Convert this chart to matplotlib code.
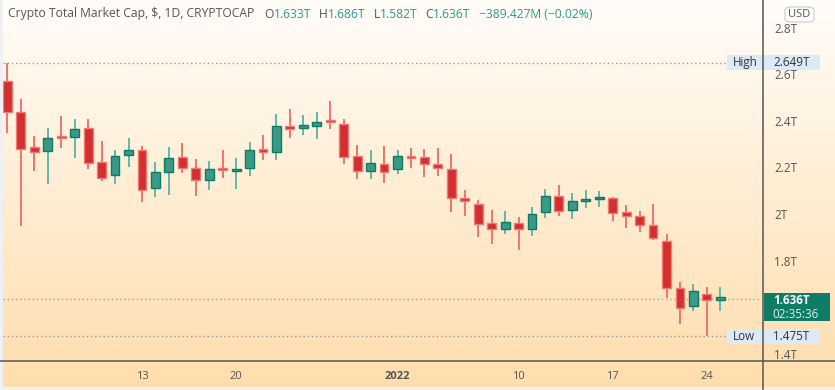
"""
Daily candles of the total crypto market cap, TradingView style.
"""

import numpy as np
import pandas as pd
import matplotlib
matplotlib.use('Agg')
import matplotlib.pyplot as plt
import matplotlib.dates as mdates
from matplotlib.lines import Line2D
from matplotlib.patches import Rectangle, FancyBboxPatch
from matplotlib.transforms import blended_transform_factory

# data (trillions USD), one candle per day from 2021-12-03 to 2022-01-25
dates = pd.date_range('2021-12-03', '2022-01-25', freq='D')
opens = [2.571, 2.438, 2.286, 2.269, 2.332, 2.329, 2.368, 2.223, 2.166, 2.253,
         2.276, 2.110, 2.179, 2.243, 2.196, 2.145, 2.196, 2.183, 2.196, 2.272,
         2.265, 2.379, 2.371, 2.379, 2.398, 2.386, 2.248, 2.186, 2.215, 2.191,
         2.248, 2.243, 2.215, 2.195, 2.069, 2.044, 1.963, 1.937, 1.963, 1.934,
         2.007, 2.077, 2.017, 2.055, 2.064, 2.067, 2.007, 1.993, 1.952, 1.885,
         1.684, 1.606, 1.658, 1.633]
highs = [2.649, 2.494, 2.335, 2.369, 2.421, 2.406, 2.406, 2.313, 2.275, 2.325,
         2.293, 2.222, 2.288, 2.303, 2.236, 2.226, 2.275, 2.240, 2.309, 2.339,
         2.429, 2.451, 2.425, 2.436, 2.486, 2.406, 2.296, 2.275, 2.293, 2.275,
         2.285, 2.279, 2.283, 2.258, 2.102, 2.059, 2.016, 2.013, 1.986, 2.030,
         2.107, 2.123, 2.090, 2.103, 2.100, 2.072, 2.037, 2.013, 2.043, 1.914,
         1.709, 1.698, 1.688, 1.686]
lows = [2.348, 1.948, 2.183, 2.127, 2.285, 2.242, 2.194, 2.140, 2.127, 2.200,
        2.053, 2.072, 2.083, 2.175, 2.079, 2.104, 2.153, 2.106, 2.164, 2.232,
        2.232, 2.327, 2.339, 2.323, 2.365, 2.213, 2.152, 2.149, 2.134, 2.170,
        2.196, 2.159, 2.164, 2.010, 1.991, 1.903, 1.873, 1.914, 1.844, 1.906,
        1.984, 1.993, 1.980, 2.024, 2.031, 1.970, 1.939, 1.924, 1.888, 1.638,
        1.527, 1.585, 1.475, 1.582]
closes = [2.438, 2.279, 2.265, 2.327, 2.326, 2.363, 2.218, 2.155, 2.250, 2.276,
          2.103, 2.179, 2.239, 2.196, 2.146, 2.194, 2.189, 2.193, 2.273, 2.268,
          2.379, 2.366, 2.383, 2.395, 2.393, 2.246, 2.186, 2.219, 2.182, 2.248,
          2.240, 2.214, 2.197, 2.070, 2.056, 1.956, 1.937, 1.964, 1.934, 2.000,
          2.077, 2.014, 2.056, 2.064, 2.072, 2.003, 1.993, 1.952, 1.896, 1.681,
          1.595, 1.670, 1.631, 1.636]

price_ticks = [1.4, 1.8, 2.0, 2.2, 2.4, 2.6, 2.8]
time_ticks = ['2021-12-13', '2021-12-20', '2022-01-01', '2022-01-10', '2022-01-17', '2022-01-24']
time_labels = ['13', '20', '2022', '10', '17', '24']

high_val, low_val, last_val = 2.649, 1.475, 1.636
header = 'Crypto Total Market Cap, $, 1D, CRYPTOCAP'
ohlc_text = [('O', '1.633T'), ('H', '1.686T'), ('L', '1.582T'), ('C', '1.636T')]
change_text = '\u2212389.427M (\u22120.02%)'

# colours
UP_FILL, UP_EDGE, UP_WICK = '#3a9a87', '#0f7a64', '#62b8a5'
DN_FILL, DN_EDGE, DN_WICK = '#d32f2f', '#ef7b78', '#ee7470'
TEXT = '#555555'
GREEN_TXT = '#2a9b84'

plt.rcParams['font.family'] = ['Open Sans', 'DejaVu Sans']

W, H = 835, 390
fig = plt.figure(figsize=(W / 100, H / 100), dpi=100)


def fx(px):
    return px / W


def fy(py):
    return 1 - py / H


# background gradient over the whole picture
bg = fig.add_axes([0, 0, 1, 1], zorder=-5)
top = np.array([255, 253, 249]) / 255
bot = np.array([255, 221, 172]) / 255
t = np.linspace(0, 1, 256)[:, None]
grad = top * (1 - t) + bot * t
bg.imshow(grad[:, None, :], aspect='auto', extent=[0, 1, 0, 1])
bg.axis('off')

# thin light frame at the left and bottom edges
fig.add_artist(Rectangle((0, 0), fx(3), 1, facecolor='#eef0f4', edgecolor='none'))
fig.add_artist(Rectangle((0, 0), 1, 3 / H, facecolor='#eef0f4', edgecolor='none'))

# main chart area (pixels: x 3..763, y 0..361)
ax_left, ax_right, ax_top, ax_bot = 3, 763, 0, 361
ax = fig.add_axes([fx(ax_left), fy(ax_bot), fx(ax_right - ax_left), (ax_bot - ax_top) / H])
ax.set_facecolor('none')

x = mdates.date2num(dates.to_pydatetime())
o = np.array(opens)
c = np.array(closes)
up = c >= o

ax.vlines(x[up], np.array(lows)[up], np.array(highs)[up], color=UP_WICK, lw=1.4, zorder=2)
ax.vlines(x[~up], np.array(lows)[~up], np.array(highs)[~up], color=DN_WICK, lw=1.4, zorder=2)
body_lo = np.minimum(o, c)
body_h = np.maximum(np.abs(c - o), 0.009)
ax.bar(x[up], body_h[up], bottom=body_lo[up], width=0.66, color=UP_FILL,
       edgecolor=UP_EDGE, linewidth=1.0, zorder=3)
ax.bar(x[~up], body_h[~up], bottom=body_lo[~up], width=0.66, color=DN_FILL,
       edgecolor=DN_EDGE, linewidth=1.0, zorder=3)

jan1 = mdates.date2num(pd.Timestamp('2022-01-01'))
px_per_day = 13.45
ax.set_xlim(jan1 + (ax_left - 397.5) / px_per_day, jan1 + (ax_right - 397.5) / px_per_day)
y_at_2 = 214
px_per_unit = 233
ax.set_ylim(2 - (ax_bot - y_at_2) / px_per_unit, 2 + (y_at_2 - ax_top) / px_per_unit)

for s in ax.spines.values():
    s.set_visible(False)

ax.set_xticks(mdates.date2num(pd.to_datetime(time_ticks).to_pydatetime()))
ax.set_xticklabels(time_labels)
ax.tick_params(axis='x', length=0, pad=7, labelsize=8, labelcolor=TEXT)
ax.get_xticklabels()[2].set_fontweight('bold')

ax.yaxis.tick_right()
ax.set_yticks(price_ticks)
ax.set_yticklabels([f'{v:g}T' for v in price_ticks])
ax.tick_params(axis='y', length=0, pad=8, labelsize=8.4, labelcolor=TEXT)

# dotted reference lines
ax.axhline(high_val, xmax=(727 - ax_left) / (ax_right - ax_left), color='#9a9a9a',
           lw=1, ls=(0, (1, 2)), zorder=1)
ax.axhline(low_val, xmax=(727 - ax_left) / (ax_right - ax_left), color='#9a9a9a',
           lw=1, ls=(0, (1, 2)), zorder=1)
ax.axhline(last_val, color='#8fa8a0', lw=1, ls=(0, (1, 2)), zorder=1)

# frame lines
fig.add_artist(Line2D([fx(0), fx(W)], [fy(ax_bot), fy(ax_bot)], color='#555555', lw=1.1))

tr = blended_transform_factory(fig.transFigure, ax.transData)

# High / Low labels
for val, name in [(high_val, 'High'), (low_val, 'Low')]:
    box = FancyBboxPatch((fx(727), val - 7.5 / px_per_unit), fx(93), 15 / px_per_unit,
                         boxstyle='square,pad=0', transform=tr, facecolor='#dce9f7',
                         edgecolor='none', zorder=6)
    fig.add_artist(box)
    fig.text(fx(733), val, name, transform=tr, fontsize=8.4, color='#333333',
             va='center', ha='left', zorder=7)
    fig.text(fx(773), val, f'{val:.3f}T', transform=tr, fontsize=8.4, color='#333333',
             va='center', ha='left', zorder=7)
fig.add_artist(Line2D([fx(ax_right), fx(ax_right)], [fy(0), fy(H)], color='#555555', lw=1.1, zorder=8))

# current price box
cur = FancyBboxPatch((fx(764), fy(321)), fx(66), (321 - 293) / H, boxstyle='square,pad=0',
                     facecolor='#0e7c66', edgecolor='none', zorder=9)
fig.add_artist(cur)
fig.text(fx(773), fy(300), f'{last_val:.3f}T', fontsize=8.4, color='white',
         fontweight='bold', va='center', ha='left', zorder=10)
fig.text(fx(772), fy(314), '02:35:36', fontsize=8.4, color='#dff0ea',
         va='center', ha='left', zorder=10)

# USD badge
usd = FancyBboxPatch((fx(785), fy(22)), fx(29), 15 / H,
                     boxstyle='round,pad=0,rounding_size=0.008', facecolor='#fffdf9',
                     edgecolor='#cccccc', lw=0.8, zorder=9)
fig.add_artist(usd)
fig.text(fx(799.5), fy(14.5), 'USD', fontsize=8, color=TEXT, ha='center', va='center', zorder=10)

# header line
xpos = 8
r = fig.canvas.get_renderer()


def put(s, color, gap=0):
    global xpos
    tt = fig.text(fx(xpos), fy(14), s, fontsize=8.7, color=color, va='center', ha='left')
    w = tt.get_window_extent(renderer=r).width
    xpos += w + gap


put(header, TEXT, 10)
for k, v in ohlc_text:
    put(k, TEXT)
    put(v, GREEN_TXT, 8)
put(change_text, GREEN_TXT)

fig.savefig('out.png', dpi=100)
